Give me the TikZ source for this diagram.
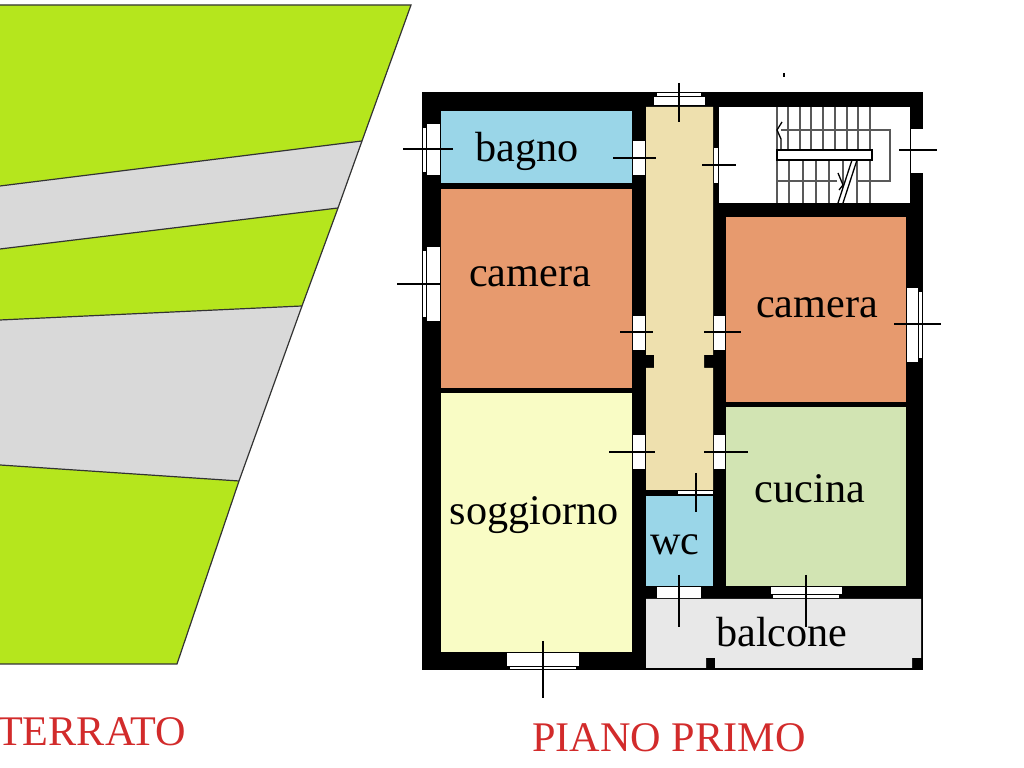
\documentclass[tikz,border=0pt]{standalone}
\usepackage{fontspec}
\setmainfont{Liberation Serif}
\definecolor{lawn}{HTML}{B5E61D}
\definecolor{paving}{HTML}{D9D9D9}
\definecolor{wetroom}{HTML}{9AD6E8}
\definecolor{bedroom}{HTML}{E79A6E}
\definecolor{living}{HTML}{F9FCC5}
\definecolor{hall}{HTML}{EEE0AE}
\definecolor{kitchen}{HTML}{D2E4B3}
\definecolor{terrace}{HTML}{E8E8E8}
\definecolor{title}{HTML}{D22B2B}
\tikzset{
        x=0.01cm, y=-0.01cm,
        outline/.style={draw=black!80!white, line width=0.12mm},
        wall/.style={fill=black},
        opening/.style={fill=white},
        tick/.style={draw=black, line width=0.13mm},
        tread/.style={draw=black!65!white, line width=0.15mm},
        roomname/.style={inner sep=0pt, anchor=base, text=black, font=\fontsize{12}{14}\selectfont},
        floorname/.style={inner sep=0pt, anchor=base, text=title, font=\fontsize{12}{14}\selectfont}
          }
\begin{document}
\begin{tikzpicture}
        \useasboundingbox (0,0) rectangle (1024,768);
        % garden
        \fill[lawn] (0,5) -- (411,5) -- (362,141) -- (338,208) -- (302,306) -- (239,481) -- (177,664) -- (0,664) -- cycle;
        \fill[paving] (362,141) -- (0,186) -- (0,249) -- (338,208) -- cycle;
        \fill[paving] (302,306) -- (0,320) -- (0,465) -- (239,481) -- cycle;
        \draw[outline] (0,5) -- (411,5) -- (362,141) -- (338,208) -- (302,306) -- (239,481) -- (177,664) -- (0,664);
        \draw[outline] (362,141) -- (0,186);
        \draw[outline] (338,208) -- (0,249);
        \draw[outline] (302,306) -- (0,320);
        \draw[outline] (239,481) -- (0,465);
        % walls and rooms
        \fill[wall] (422,92) rectangle (923,670);
        \fill[wetroom] (441,111) rectangle (632,183);
        \fill[bedroom] (441,189) rectangle (632,388);
        \fill[living] (441,393) rectangle (632,652);
        \fill[hall] (646,107) -- (713,107) -- (713,355) -- (704,355) -- (704,368) -- (713,368)
          -- (713,490) -- (646,490) -- (646,368) -- (654,368) -- (654,355) -- (646,355) -- cycle;
        \fill[opening] (719,107) rectangle (910,203);
        \fill[bedroom] (726,217) rectangle (906,402);
        \fill[kitchen] (726,407) rectangle (906,586);
        \fill[wetroom] (646,496) rectangle (713,586);
        \fill[terrace] (646,599) -- (921,599) -- (921,658) -- (912,658) -- (912,668) -- (715,668)
          -- (715,658) -- (706,658) -- (706,668) -- (646,668) -- cycle;
        % windows
        \fill[opening] (427,124) rectangle (440,175);
        \fill[opening] (423,128) rectangle (426,172);
        \fill[opening] (427,247) rectangle (440,321);
        \fill[opening] (423,251) rectangle (426,317);
        \fill[opening] (654,97) rectangle (705,105);
        \fill[opening] (657,93) rectangle (701,96);
        \fill[opening] (911,129) rectangle (923,173);
        \fill[opening] (907,288) rectangle (918,362);
        \fill[opening] (919,292) rectangle (922,358);
        \fill[opening] (657,587) rectangle (701,598);
        \fill[opening] (771,587) rectangle (842,594);
        \fill[opening] (773,595) rectangle (839,598);
        \fill[opening] (507,653) rectangle (579,666);
        \fill[opening] (510,667) rectangle (576,669);
        % doors
        \fill[opening] (633,141) rectangle (645,175);
        \fill[opening] (633,316) rectangle (645,350);
        \fill[opening] (633,435) rectangle (645,469);
        \fill[opening] (714,148) rectangle (718,183);
        \fill[opening] (714,316) rectangle (725,350);
        \fill[opening] (714,435) rectangle (725,469);
        \fill[opening] (678,491) rectangle (713,494);
        % opening marks
        \draw[tick] (403,149) -- (453,149);
        \draw[tick] (397,284) -- (440,284);
        \draw[tick] (613,158) -- (656,158);
        \draw[tick] (620,332) -- (653,332);
        \draw[tick] (609,452) -- (655,452);
        \draw[tick] (702,165) -- (736,165);
        \draw[tick] (704,332) -- (741,332);
        \draw[tick] (704,452) -- (748,452);
        \draw[tick] (899,150) -- (937,150);
        \draw[tick] (894,324) -- (941,324);
        \draw[tick] (679,83) -- (679,122);
        \draw[tick] (696,473) -- (696,512);
        \draw[tick] (679,575) -- (679,627);
        \draw[tick] (806,575) -- (806,627);
        \draw[tick] (543,641) -- (543,698);
        \draw[tick] (784,73) -- (784,77);
        % stairs
        \draw[tread] (777,107) -- (777,150) (788,107) -- (788,150) (800,107) -- (800,150)
          (811,107) -- (811,150) (823,107) -- (823,150) (835,107) -- (835,150)
          (847,107) -- (847,150) (858,107) -- (858,150) (870,107) -- (870,150);
        \draw[tread] (777,160) -- (777,203) (789,160) -- (789,203) (803,160) -- (803,203)
          (816,160) -- (816,203) (829,160) -- (829,203) (843,160) -- (843,203)
          (857,160) -- (857,203) (870,160) -- (870,203);
        \draw[tread] (781,130) -- (890,130) -- (890,181) -- (857,181);
        \draw[tread] (837,181) -- (777,181);
        \draw[tick] (782,122) -- (777,130) -- (781,139) -- (781,150);
        \draw[tick] (838,173) -- (843,185) -- (839,190);
        \fill[opening] (852,160) -- (857,160) -- (843,203) -- (838,203) -- cycle;
        \draw[tick] (852,160) -- (838,203) (857,160) -- (843,203);
        \draw[tick, fill=white] (777,150) rectangle (872,160);
        % labels
        \node[roomname] (bagno) at (527,162) {bagno};
        \node[roomname] (cameraovest) at (530,287) {camera};
        \node[roomname] (cameraest) at (817,318) {camera};
        \node[roomname] (soggiorno) at (534,525) {soggiorno};
        \node[roomname] (cucina) at (810,503) {cucina};
        \node[roomname] (wc) at (675,555) {wc};
        \node[roomname] (balcone) at (782,647) {balcone};
        \node[floorname] (primo) at (669,752) {PIANO PRIMO};
        \node[floorname, anchor=base east] (terrato) at (187,746) {TERRATO};
      \end{tikzpicture}
\end{document}
